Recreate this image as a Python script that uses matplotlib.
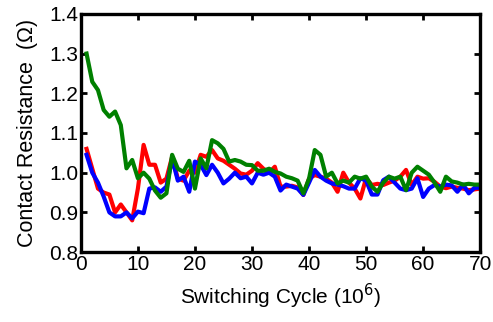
import matplotlib
matplotlib.use("Agg")
import matplotlib.pyplot as plt
import numpy as np

plt.rcParams['font.family'] = ['Liberation Sans', 'DejaVu Sans']

cycles = list(range(1, 71))

red = [1.06, 1.01, 0.96, 0.95, 0.945, 0.90, 0.92, 0.90, 0.88, 0.96,
       1.07, 1.02, 1.02, 0.975, 0.985, 1.04, 0.985, 0.98, 1.005, 1.00,
       1.045, 1.04, 1.057, 1.036, 1.03, 1.02, 1.01, 0.998, 0.995, 1.005,
       1.024, 1.01, 1.00, 1.015, 0.965, 0.965, 0.967, 0.963, 0.944, 0.985,
       0.994, 0.99, 0.985, 0.975, 0.952, 1.00, 0.975, 0.96, 0.935, 0.986,
       0.969, 0.972, 0.969, 0.975, 0.98, 0.99, 1.007, 0.969, 0.99, 0.985,
       0.986, 0.977, 0.965, 0.961, 0.965, 0.962, 0.96, 0.956, 0.958, 0.96]

blue = [1.045, 1.00, 0.975, 0.94, 0.90, 0.89, 0.89, 0.90, 0.885, 0.902,
        0.898, 0.96, 0.963, 0.952, 0.965, 1.035, 0.98, 0.99, 0.952, 1.028,
        1.02, 0.994, 1.02, 1.00, 0.973, 0.985, 1.00, 0.986, 0.99, 0.973,
        1.00, 0.995, 1.00, 0.99, 0.955, 0.97, 0.965, 0.96, 0.944, 0.975,
        1.007, 0.99, 0.98, 0.973, 0.97, 0.966, 0.96, 0.96, 0.986, 0.98,
        0.945, 0.945, 0.981, 0.99, 0.975, 0.96, 0.956, 0.96, 0.986, 0.939,
        0.96, 0.969, 0.965, 0.97, 0.968, 0.952, 0.97, 0.948, 0.962, 0.962]

green = [1.30, 1.229, 1.208, 1.158, 1.141, 1.154, 1.12, 1.011, 1.032, 0.986,
         1.00, 0.985, 0.955, 0.937, 0.948, 1.045, 1.01, 1.002, 1.03, 0.96,
         1.036, 1.011, 1.082, 1.074, 1.06, 1.028, 1.032, 1.028, 1.02, 1.019,
         1.005, 1.005, 1.01, 1.002, 0.998, 0.99, 0.986, 0.98, 0.948, 0.985,
         1.057, 1.045, 0.99, 1.00, 0.973, 0.98, 0.975, 0.99, 0.985, 0.99,
         0.965, 0.952, 0.975, 0.99, 0.985, 0.99, 0.956, 1.00, 1.015, 1.005,
         0.995, 0.975, 0.952, 0.99, 0.978, 0.975, 0.97, 0.972, 0.97, 0.97]

xticks = [0, 10, 20, 30, 40, 50, 60, 70]
yticks = [0.8, 0.9, 1.0, 1.1, 1.2, 1.3, 1.4]

fig = plt.figure(figsize=(4.93, 3.22), dpi=100)
ax = fig.add_axes([0.164, 0.217, 0.81, 0.74])

ax.plot(cycles, red, color='#ff0000', lw=3, solid_joinstyle='round')
ax.plot(cycles, blue, color='#0000ff', lw=3, solid_joinstyle='round')
ax.plot(cycles, green, color='#008000', lw=3, solid_joinstyle='round')

ax.set_xlim(0, 70)
ax.set_ylim(0.8, 1.4)
ax.set_xticks(xticks)
ax.set_xticklabels([str(v) for v in xticks])
ax.set_yticks(yticks)
ax.set_yticklabels([f"{v:.1f}" for v in yticks])

for s in ax.spines.values():
    s.set_linewidth(2.4)
ax.tick_params(direction='in', length=4, width=2, top=True, right=True,
               labelsize=15, pad=2)

ax.set_xlabel('Switching Cycle (10$^6$)', fontsize=15, labelpad=6)
ax.set_ylabel('Contact Resistance  (Ω)', fontsize=15.5, labelpad=8)

fig.savefig('out.png', dpi=100)
